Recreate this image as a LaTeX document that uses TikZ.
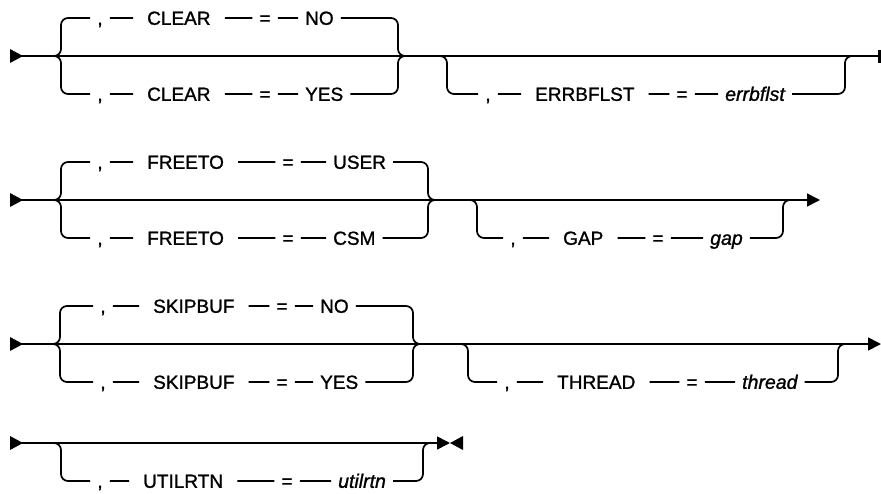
\documentclass[tikz,border=0pt]{standalone}
\usepackage{fontspec}
\setmainfont{Liberation Sans}[FakeBold=1.2]
\usetikzlibrary{arrows.meta}

\begin{document}
\begin{tikzpicture}[x=1pt, y=-1pt,
	rail/.style={line width=1.7pt, rounded corners=7pt},
	tok/.style={font=\fontsize{19}{21}\selectfont, inner xsep=7pt, inner ysep=0pt, text height=13.6pt, text depth=0pt},
	kw/.style={tok, anchor=west, inner xsep=14pt},
	val/.style={tok, anchor=west, inner xsep=7pt},
	var/.style={val, font=\fontsize{19.5}{21}\selectfont\itshape},
	endtip/.style={-{Triangle[length=13pt, width=13pt]}}]
	\useasboundingbox (0,0) rectangle (881,493);

	% row 1: CLEAR, ERRBFLST
	\coordinate (s1) at (10,56);
	\coordinate (e1) at (879.5,56);
	\fill (s1) ++(0,-7) -- ++(13,7) -- ++(-13,7) -- cycle;
	\draw[rail] (s1) -- (e1);
	\draw[line width=3pt] (e1) ++(0,-6.5) -- ++(0,13);
	\coordinate (b1a) at (50,56);
	\coordinate (b1u) at (61,18);
	\coordinate (b1l) at (61,94);
	\coordinate (b1z) at (398,56);
	\coordinate (b1y) at (406,56);
	\node[tok] (c1u) at (100,18) {,};
	\node[kw] (k1u) at (133,18) {CLEAR};
	\node[tok] (q1u) at (265,18) {=};
	\node[val] (v1u) at (298,18) {NO};
	\node[tok] (c1l) at (100,94) {,};
	\node[kw] (k1l) at (133,94) {CLEAR};
	\node[tok] (q1l) at (265,94) {=};
	\node[val] (v1l) at (298,94) {YES};
	\draw[rail] (b1a) -| (b1u) -- (c1u) -- (k1u) -- (q1u) -- (v1u) -| (b1z) -- (b1y);
	\draw[rail] (b1a) -| (b1l) -- (c1l) -- (k1l) -- (q1l) -- (v1l) -| (b1z) -- (b1y);
	\coordinate (o1a) at (438,56);
	\coordinate (o1b) at (447,94);
	\coordinate (o1z) at (845,56);
	\coordinate (o1y) at (857,56);
	\node[tok] (c1o) at (488,94) {,};
	\node[kw] (k1o) at (521,94) {ERRBFLST};
	\node[tok] (q1o) at (682,94) {=};
	\node[var] (v1o) at (718,94) {errbflst};
	\draw[rail] (o1a) -| (o1b) -- (c1o) -- (k1o) -- (q1o) -- (v1o) -| (o1z) -- (o1y);

	% row 2: FREETO, GAP
	\coordinate (s2) at (10,200);
	\coordinate (e2) at (820,200);
	\fill (s2) ++(0,-7) -- ++(13,7) -- ++(-13,7) -- cycle;
	\draw[rail, endtip] (s2) -- (e2);
	\coordinate (b2a) at (50,200);
	\coordinate (b2u) at (61,162);
	\coordinate (b2l) at (61,238);
	\coordinate (b2z) at (428,200);
	\coordinate (b2y) at (436,200);
	\node[tok] (c2u) at (100,162) {,};
	\node[kw] (k2u) at (133,162) {FREETO};
	\node[tok] (q2u) at (288,162) {=};
	\node[val] (v2u) at (326,162) {USER};
	\node[tok] (c2l) at (100,238) {,};
	\node[kw] (k2l) at (133,238) {FREETO};
	\node[tok] (q2l) at (288,238) {=};
	\node[val] (v2l) at (326,238) {CSM};
	\draw[rail] (b2a) -| (b2u) -- (c2u) -- (k2u) -- (q2u) -- (v2u) -| (b2z) -- (b2y);
	\draw[rail] (b2a) -| (b2l) -- (c2l) -- (k2l) -- (q2l) -- (v2l) -| (b2z) -- (b2y);
	\coordinate (o2a) at (468,200);
	\coordinate (o2b) at (477,238);
	\coordinate (o2z) at (783,200);
	\coordinate (o2y) at (792,200);
	\node[tok] (c2o) at (513,238) {,};
	\node[kw] (k2o) at (549,238) {GAP};
	\node[tok] (q2o) at (658,238) {=};
	\node[var] (v2o) at (703,238) {gap};
	\draw[rail] (o2a) -| (o2b) -- (c2o) -- (k2o) -- (q2o) -- (v2o) -| (o2z) -- (o2y);

	% row 3: SKIPBUF, THREAD
	\coordinate (s3) at (10,344);
	\coordinate (e3) at (881,344);
	\fill (s3) ++(0,-7) -- ++(13,7) -- ++(-13,7) -- cycle;
	\draw[rail, endtip] (s3) -- (e3);
	\coordinate (b3a) at (50,344);
	\coordinate (b3u) at (60,306);
	\coordinate (b3l) at (60,382);
	\coordinate (b3z) at (413,344);
	\coordinate (b3y) at (421,344);
	\node[tok] (c3u) at (103,306) {,};
	\node[kw] (k3u) at (139,306) {SKIPBUF};
	\node[tok] (q3u) at (282,306) {=};
	\node[val] (v3u) at (313,306) {NO};
	\node[tok] (c3l) at (103,382) {,};
	\node[kw] (k3l) at (139,382) {SKIPBUF};
	\node[tok] (q3l) at (282,382) {=};
	\node[val] (v3l) at (313,382) {YES};
	\draw[rail] (b3a) -| (b3u) -- (c3u) -- (k3u) -- (q3u) -- (v3u) -| (b3z) -- (b3y);
	\draw[rail] (b3a) -| (b3l) -- (c3l) -- (k3l) -- (q3l) -- (v3l) -| (b3z) -- (b3y);
	\coordinate (o3a) at (459,344);
	\coordinate (o3b) at (468,382);
	\coordinate (o3z) at (838,344);
	\coordinate (o3y) at (850,344);
	\node[tok] (c3o) at (507,382) {,};
	\node[kw] (k3o) at (543,382) {THREAD};
	\node[tok] (q3o) at (692,382) {=};
	\node[var] (v3o) at (735,382) {thread};
	\draw[rail] (o3a) -| (o3b) -- (c3o) -- (k3o) -- (q3o) -- (v3o) -| (o3z) -- (o3y);

	% row 4: UTILRTN
	\coordinate (s4) at (10,443);
	\coordinate (e4) at (450,443);
	\fill (s4) ++(0,-7) -- ++(13,7) -- ++(-13,7) -- cycle;
	\draw[rail, endtip] (s4) -- (e4);
	\fill (e4) -- ++(13,-7) -- ++(0,14) -- cycle;
	\coordinate (b4a) at (50,443);
	\coordinate (b4l) at (61,481);
	\coordinate (b4z) at (423,443);
	\coordinate (b4y) at (435,443);
	\node[tok] (c4l) at (100,481) {,};
	\node[kw] (k4l) at (129,481) {UTILRTN};
	\node[tok] (q4l) at (287,481) {=};
	\node[var] (v4l) at (331,481) {utilrtn};
	\draw[rail] (b4a) -| (b4l) -- (c4l) -- (k4l) -- (q4l) -- (v4l) -| (b4z) -- (b4y);
\end{tikzpicture}
\end{document}
